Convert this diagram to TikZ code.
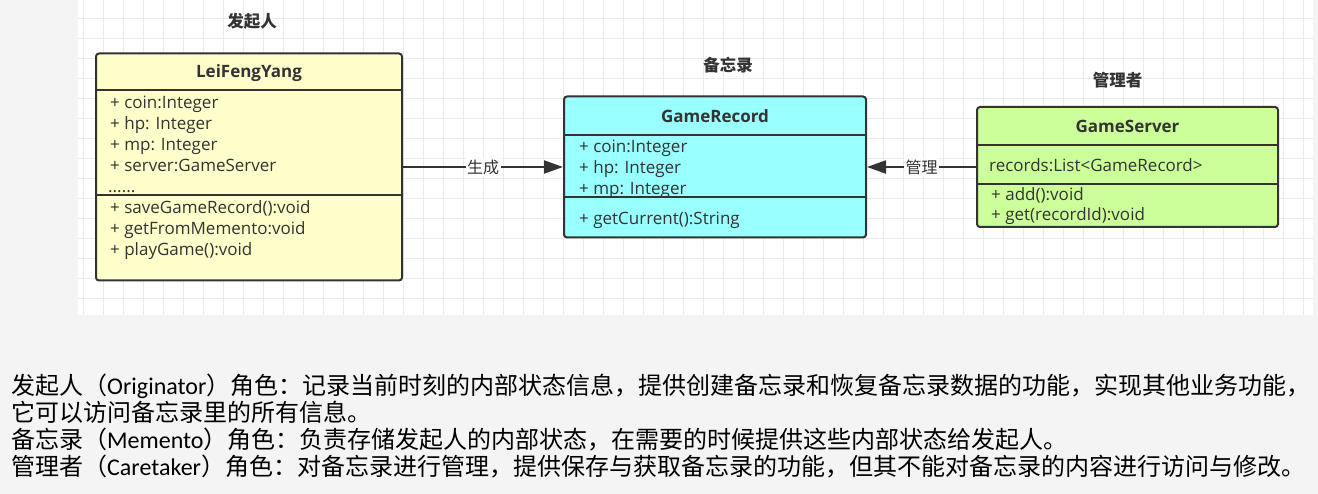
\documentclass[tikz,border=0pt]{standalone}
\usepackage{fontspec}
\setmainfont{Open Sans}
\newfontfamily\cjk{Noto Sans CJK SC}
\newfontfamily\latin{Carlito}
\usetikzlibrary{arrows.meta,calc,positioning}
\definecolor{ink}{HTML}{333333}
\definecolor{gridline}{HTML}{EBEBEB}
\definecolor{bgray}{HTML}{F4F4F4}
\definecolor{origin}{HTML}{FFFFCC}
\definecolor{memento}{HTML}{99FFFF}
\definecolor{keeper}{HTML}{CCFF99}
\tikzset{
  umlbox/.style={draw=ink,line width=2pt,rounded corners=3pt,inner sep=0pt},
  umlline/.style={draw=ink,line width=2pt},
  classname/.style={inner sep=0pt,text=ink,font=\fontsize{17}{20}\selectfont\bfseries},
  member/.style={anchor=west,inner sep=0pt,text height=15pt,text depth=1pt,text=ink,font=\fontsize{17}{21}\selectfont},
  rolelabel/.style={inner sep=0pt,text=ink,font=\cjk\fontsize{16.5}{20}\selectfont\bfseries},
  edgelabel/.style={fill=white,inner sep=1.5pt,text=ink,font=\cjk\fontsize{16}{18}\selectfont},
  assoc/.style={draw=ink,line width=2pt,-{Triangle[length=19pt,width=13pt]}},
  note/.style={anchor=west,inner sep=0pt,text=black,font=\cjk\fontsize{24}{28}\selectfont}
}

\begin{document}
\begin{tikzpicture}[x=1pt,y=-1pt]
    \useasboundingbox(0,0)rectangle(1318,494);
    \fill[bgray](0,0)rectangle(1318,494);
    \fill[white](78,0)rectangle(1313,315);
    \foreach \gx in {83,103,...,1303}\draw[gridline,line width=1pt](\gx,0)--(\gx,315);
    \foreach \gy in {19,39,...,299}\draw[gridline,line width=1pt](78,\gy)--(1313,\gy);

    \node[umlbox,fill=origin,minimum width=306pt,minimum height=227pt](leifeng)at(249,167){};
    \node[classname](leifeng-name)at($(leifeng.north)+(0,21)$){LeiFengYang};
    \draw[umlline]($(leifeng.north west)+(0,38)$)--($(leifeng.north east)+(0,38)$);
    \draw[umlline]($(leifeng.north west)+(0,143)$)--($(leifeng.north east)+(0,143)$);
    \foreach \txt[count=\i]in{+ coin:Integer,+ hp: Integer,+ mp: Integer,+ server:GameServer}
        \node[member](leifeng-a\i)at($(leifeng.north west)+(15,{28+21*\i})$){\txt};
    \node[member](leifeng-more)at($(leifeng.north west)+(13,133)$){......};
    \foreach \txt[count=\i]in{+ saveGameRecord():void,+ getFromMemento:void,+ playGame():void}
        \node[member](leifeng-m\i)at($(leifeng.north west)+(15,{133+21*\i})$){\txt};
    \node[rolelabel](leifeng-role)at($(leifeng.north)+(3,-31)$){发起人};

    \node[umlbox,fill=memento,minimum width=302pt,minimum height=141pt](gamerec)at(715,167){};
    \node[classname](gamerec-name)at($(gamerec.north)+(0,21)$){GameRecord};
    \draw[umlline]($(gamerec.north west)+(0,40)$)--($(gamerec.north east)+(0,40)$);
    \draw[umlline]($(gamerec.north west)+(0,102)$)--($(gamerec.north east)+(0,102)$);
    \foreach \txt[count=\i]in{+ coin:Integer,+ hp: Integer,+ mp: Integer}
        \node[member](gamerec-a\i)at($(gamerec.north west)+(16,{29+21*\i})$){\txt};
    \node[member](gamerec-m1)at($(gamerec.north west)+(16,122)$){+ getCurrent():String};
    \node[rolelabel](gamerec-role)at($(gamerec.north)+(13,-30)$){备忘录};

    \node[umlbox,fill=keeper,minimum width=301pt,minimum height=120pt](gameserver)at(1127.5,167){};
    \node[classname](gameserver-name)at($(gameserver.north)+(0,20)$){GameServer};
    \draw[umlline]($(gameserver.north west)+(0,39)$)--($(gameserver.north east)+(0,39)$);
    \draw[umlline]($(gameserver.north west)+(0,78)$)--($(gameserver.north east)+(0,78)$);
    \node[member](gameserver-a1)at($(gameserver.north west)+(13,59)$){records:List<GameRecord>};
    \foreach \txt[count=\i]in{+ add():void,+ get(recordId):void}
        \node[member](gameserver-m\i)at($(gameserver.north west)+(15,{68+20*\i})$){\txt};
    \node[rolelabel](gameserver-role)at($(gameserver.north)+(-10,-26)$){管理者};

    \draw[assoc](leifeng.east)--node[edgelabel]{生成}(gamerec.west);
    \draw[assoc](gameserver.west)--node[edgelabel]{管理}(gamerec.east);

    \node[note](note1)at(11,386){发起人（{\latin Originator}）角色：记录当前时刻的内部状态信息，提供创建备忘录和恢复备忘录数据的功能，实现其他业务功能，};
    \node[note](note2)at(11,412){它可以访问备忘录里的所有信息。};
    \node[note](note3)at(11,440){备忘录（{\latin Memento}）角色：负责存储发起人的内部状态，在需要的时候提供这些内部状态给发起人。};
    \node[note](note4)at(11,467){管理者（{\latin Caretaker}）角色：对备忘录进行管理，提供保存与获取备忘录的功能，但其不能对备忘录的内容进行访问与修改。};
\end{tikzpicture}
\end{document}
